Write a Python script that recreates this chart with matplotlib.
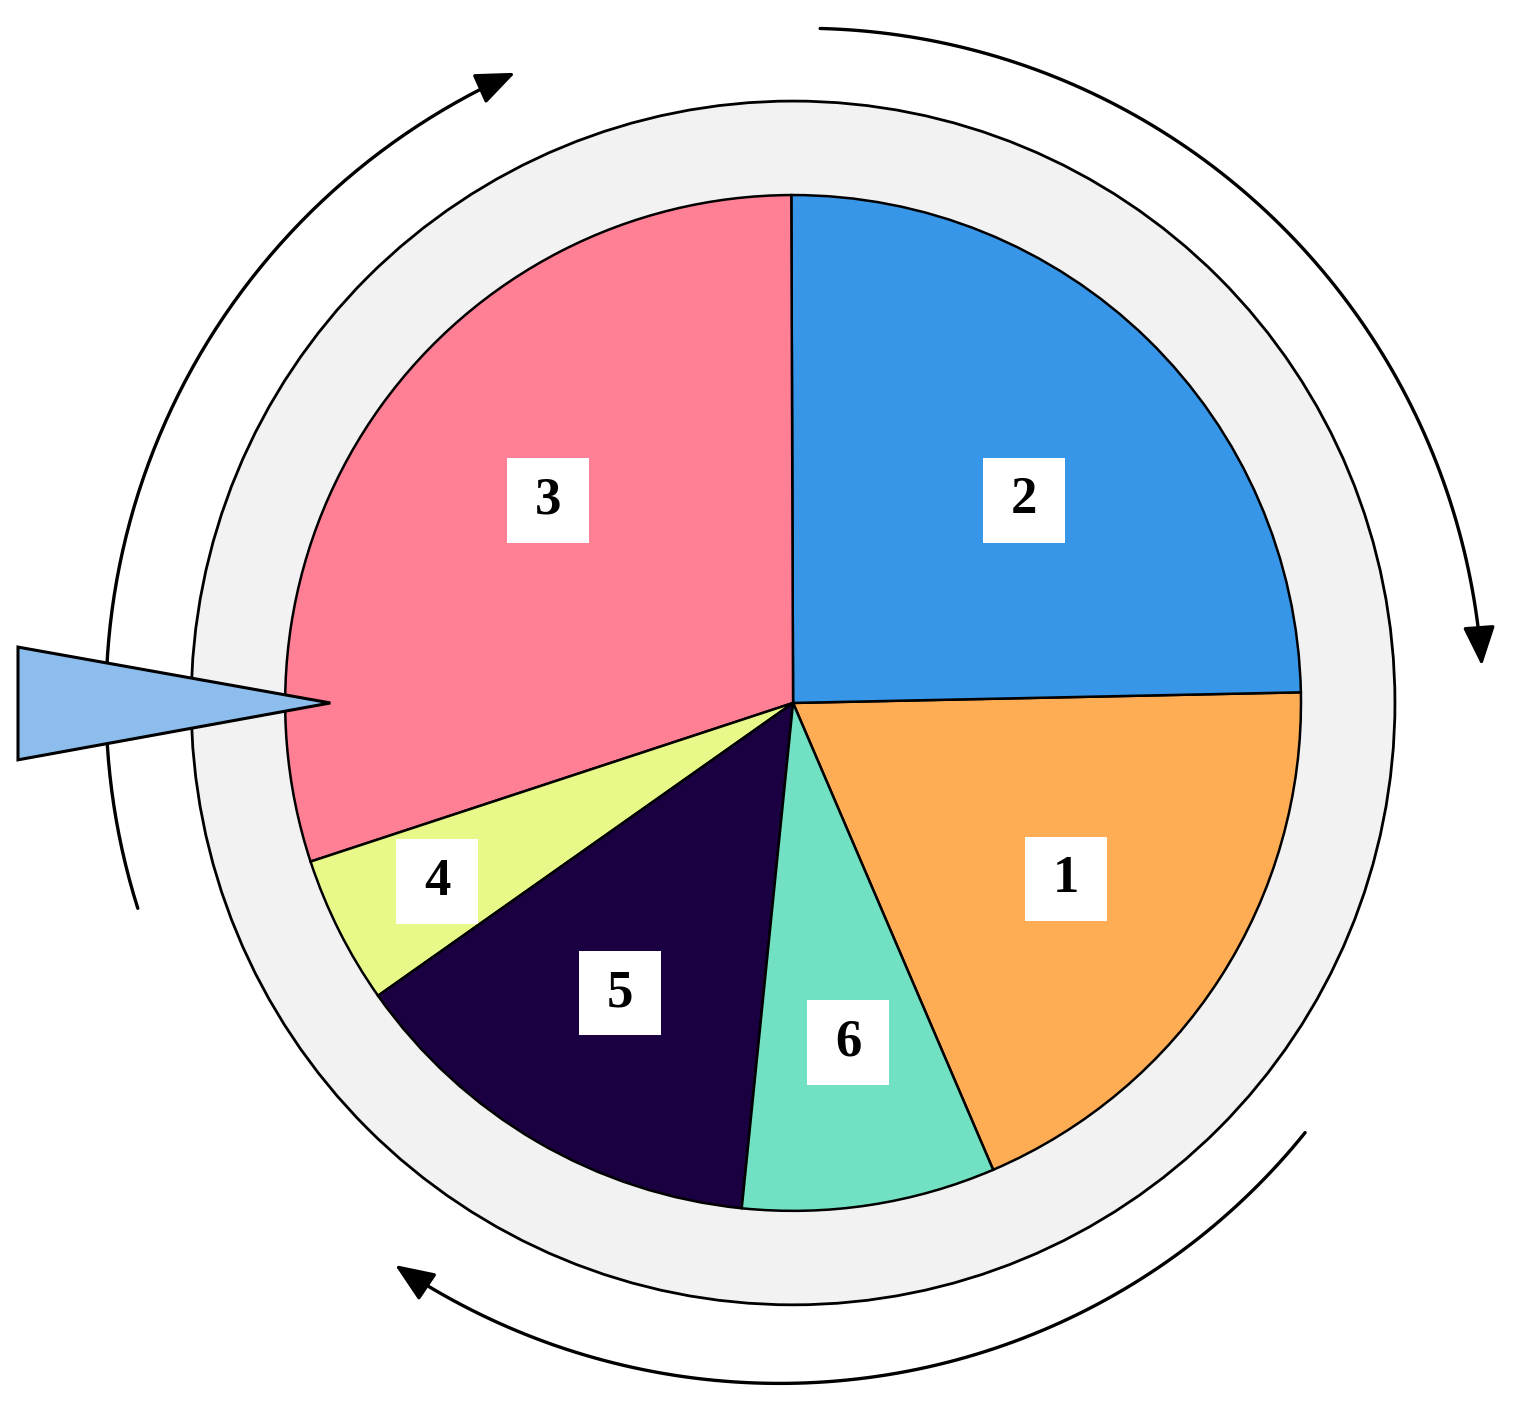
import numpy as np
import matplotlib.pyplot as plt
from matplotlib.patches import Circle, Rectangle, Polygon, FancyArrowPatch
from matplotlib.path import Path

# slice sizes in degrees, counter-clockwise starting from slice 1
labels = ['1', '2', '3', '4', '5', '6']
sizes = [68, 89, 108, 17, 49, 29]
colors = ['#FFAD55', '#3796E8', '#FF7F95', '#E8F98A', '#1A0040', '#72E0C2']
label_radius = [0.64, 0.605, 0.626, 0.784, 0.665, 0.678]
label_shift = [0.0, -4.4, -3.8, 0.0, -0.5, 0.5]

# rotation arrows: (start angle, end angle, start radius, end radius) in pie units
arrows = [(197.4, 113.8, 1.352, 1.356),
          (87.7, 3.1, 1.329, 1.358),
          (-40.0, -125.3, 1.316, 1.356)]

fig = plt.figure(figsize=(15.13, 14.12), dpi=100)
ax = fig.add_axes([0, 0, 1, 1])

# grey rim
ax.add_patch(Circle((0, 0), 1.185, facecolor='#F2F2F2', edgecolor='black', lw=2.0, zorder=1))

wedges, _ = ax.pie(sizes, colors=colors, startangle=-66.8, counterclock=True, radius=1.0,
                   wedgeprops=dict(edgecolor='black', linewidth=1.8))
for w in wedges:
    w.set_zorder(2)

ax.set_xlim(-1.561, 1.417)
ax.set_ylim(-1.396, 1.384)
ax.set_aspect('equal')
ax.axis('off')

# number boxes
for w, lab, r, s in zip(wedges, labels, label_radius, label_shift):
    mid = np.deg2rad((w.theta1 + w.theta2) / 2 + s)
    x, y = r * np.cos(mid), r * np.sin(mid)
    bw, bh = 0.161, 0.167
    ax.add_patch(Rectangle((x - bw / 2, y - bh / 2), bw, bh, facecolor='white',
                           edgecolor='none', zorder=3))
    ax.text(x, y, lab, ha='center', va='center', fontsize=38, fontweight='bold',
            family='Liberation Serif', zorder=4)

# pointer
ax.add_patch(Polygon([(-1.526, 0.110), (-1.526, -0.112), (-0.911, 0.0)], closed=True,
                     facecolor='#8DBDED', edgecolor='black', lw=2.2, joinstyle='miter', zorder=5))

# arrows around the wheel
for a0, a1, r0, r1 in arrows:
    t = np.deg2rad(np.linspace(a0, a1, 200))
    rr = np.linspace(r0, r1, 200)
    verts = np.column_stack([rr * np.cos(t), rr * np.sin(t)])
    arr = FancyArrowPatch(path=Path(verts), arrowstyle='-|>,head_length=1.1,head_width=0.45',
                          mutation_scale=22, color='black', lw=2.4, zorder=4)
    ax.add_patch(arr)

fig.savefig('out.png', dpi=100)
